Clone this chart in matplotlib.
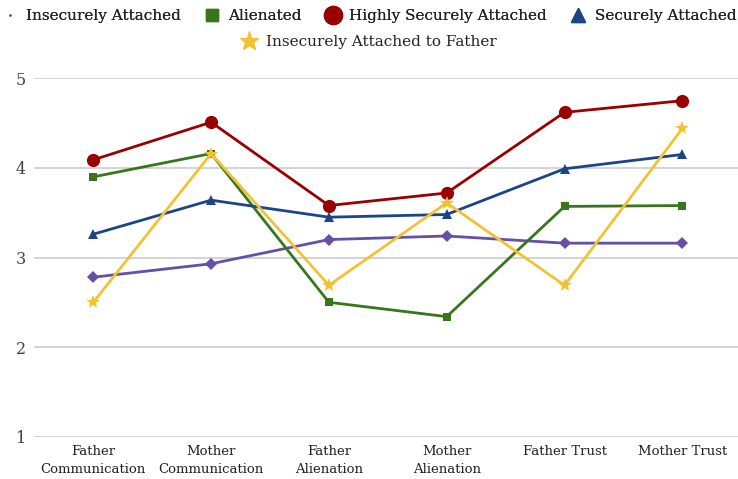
import matplotlib
matplotlib.use("Agg")
import matplotlib.pyplot as plt
from matplotlib.lines import Line2D

categories = ["Father\nCommunication", "Mother\nCommunication", "Father\nAlienation",
              "Mother\nAlienation", "Father Trust", "Mother Trust"]

insecure = [2.78, 2.93, 3.20, 3.24, 3.16, 3.16]
alienated = [3.90, 4.16, 2.50, 2.34, 3.57, 3.58]
highly_secure = [4.09, 4.51, 3.58, 3.72, 4.62, 4.75]
secure = [3.26, 3.64, 3.45, 3.48, 3.99, 4.15]
insecure_father = [2.50, 4.16, 2.69, 3.61, 2.69, 4.44]

yticks = [1, 2, 3, 4, 5]

purple = "#674ea7"
green = "#38761d"
red = "#990000"
blue = "#1c4587"
yellow = "#f1c232"

plt.rcParams["font.family"] = ["DejaVu Serif"]

W, H = 738, 479
fig = plt.figure(figsize=(W / 100, H / 100), dpi=100)
ax = fig.add_axes([34.4 / W, 42.3 / H, (741.2 - 34.4) / W, 358.4 / H])

x = range(len(categories))
series = [
    (insecure, purple, "D", 6.5),
    (alienated, green, "s", 6),
    (highly_secure, red, "o", 9.5),
    (secure, blue, "^", 7.5),
    (insecure_father, yellow, "*", 10),
]
for vals, col, mk, ms in series:
    ax.plot(x, vals, color=col, lw=2.0, marker=mk, markersize=ms,
            markeredgewidth=0, clip_on=False, zorder=3)

ax.set_xlim(-0.5, len(categories) - 0.5)
ax.set_ylim(1, 5)
ax.set_yticks(yticks)
ax.set_xticks(list(x))
ax.set_xticklabels(categories, fontsize=9.5, color="#222222", linespacing=1.5)
ax.tick_params(axis="y", length=0, pad=6, labelsize=11.5, labelcolor="#444444")
ax.tick_params(axis="x", length=0, pad=6)
ax.grid(axis="y", color="#cccccc", lw=1.2)
ax.set_axisbelow(True)
for s in ax.spines.values():
    s.set_visible(False)

# legend, two rows like the original
h1 = [
    Line2D([], [], color=purple, marker=".", markersize=1.5, lw=0),
    Line2D([], [], color=green, marker="s", markersize=9, lw=0),
    Line2D([], [], color=red, marker="o", markersize=13, lw=0),
    Line2D([], [], color=blue, marker="^", markersize=10, lw=0),
]
l1 = fig.legend(h1, ["Insecurely Attached", "Alienated", "Highly Securely Attached",
                     "Securely Attached"],
                loc="center", bbox_to_anchor=(0.5, 1 - 16 / H), ncol=4, frameon=False,
                fontsize=11, handlelength=1.0, handletextpad=0.6, columnspacing=1.5,
                labelcolor="#222222")
h2 = [Line2D([], [], color=yellow, marker="*", markersize=14, lw=0)]
fig.legend(h2, ["Insecurely Attached to Father"], loc="center",
           bbox_to_anchor=(0.5, 1 - 42 / H), frameon=False, fontsize=11,
           handlelength=1.0, handletextpad=0.6, labelcolor="#222222")
fig.add_artist(l1)

fig.savefig("out.png", dpi=100)
